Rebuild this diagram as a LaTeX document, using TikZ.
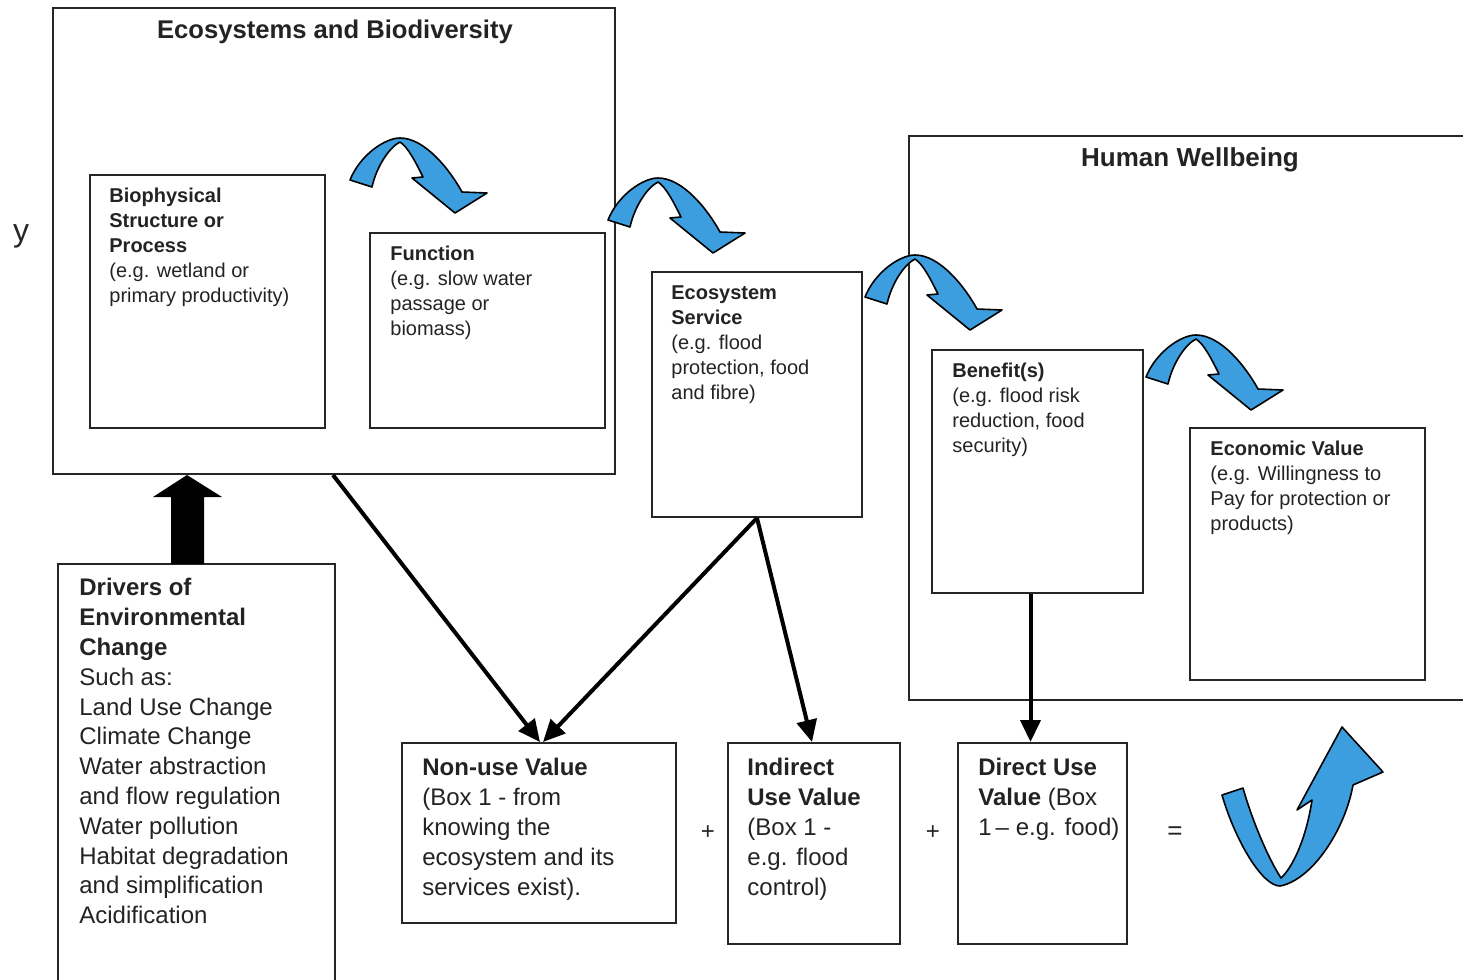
\documentclass[tikz,border=0pt]{standalone}
\usepackage{fontspec}
\setmainfont{Liberation Sans}
\usetikzlibrary{arrows.meta,fit,calc}
\definecolor{sky}{RGB}{60,158,222}
\definecolor{ink}{RGB}{35,35,35}
\begin{document}
\begin{tikzpicture}[x=0.5pt,y=-0.5pt,
  box/.style={draw=black!85, line width=1pt, inner sep=0pt},
  txt/.style={anchor=north west, inner sep=0pt, align=left, text=ink, font=\fontsize{10}{12.5}\selectfont},
  bigtxt/.style={anchor=north west, inner sep=0pt, align=left, text=ink, font=\fontsize{12}{15}\selectfont},
  ttl/.style={inner sep=0pt, text=ink, font=\bfseries\fontsize{12.8}{14}\selectfont},
  conn/.style={line width=2pt, draw=black, -{Triangle[length=11pt,width=10pt]}},
  bluearrow/.style={fill=sky, draw=black, line width=0.8pt, line join=round},
  curvy/.pic={
    \path[bluearrow] (0,45) .. controls (10,20) and (35,3) .. (50,3)
      .. controls (75,3) and (100,35) .. (112,57) -- (137,58) -- (105,78) -- (62,43) -- (73,42)
      .. controls (66,28) and (58,12) .. (50,7)
      .. controls (40,12) and (27,30) .. (22,52) -- cycle;
  }]
\useasboundingbox (0,0) rectangle (1463,980);

% outer boxes
\node[box, fit={(53,8) (615,474)}] (eco) {};
\node[ttl] (ecot) at (335,32) {Ecosystems and Biodiversity};
\node[box, fit={(909,136) (1475,700)}] (hw) {};
\node[ttl, font=\bfseries\fontsize{13}{15}\selectfont] (hwt) at (1190,160) {Human Wellbeing};

% inner boxes
\node[box, fit={(90,175) (325,428)}] (bio) {};
\node[txt] at ([shift={(20,14)}]bio.north west) {\textbf{Biophysical}\\\textbf{Structure or}\\\textbf{Process}\\(e.g. wetland or\\primary productivity)};
\node[box, fit={(370,233) (605,428)}] (func) {};
\node[txt] at ([shift={(21,14)}]func.north west) {\textbf{Function}\\(e.g. slow water\\passage or\\biomass)};
\node[box, fit={(652,272) (862,517)}] (serv) {};
\node[txt] at ([shift={(20,14)}]serv.north west) {\textbf{Ecosystem}\\\textbf{Service}\\(e.g. flood\\protection, food\\and fibre)};
\node[box, fit={(932,350) (1143,593)}] (ben) {};
\node[txt] at ([shift={(21,14)}]ben.north west) {\textbf{Benefit(s)}\\(e.g. flood risk\\reduction, food\\security)};
\node[box, fit={(1190,428) (1425,680)}] (econ) {};
\node[txt] at ([shift={(21,14)}]econ.north west) {\textbf{Economic Value}\\(e.g. Willingness to\\Pay for protection or\\products)};

% drivers
\node[box, fit={(58,564) (335,995)}] (drv) {};
\node[bigtxt, font=\fontsize{12}{14.9}\selectfont] at ([shift={(22,15)}]drv.north west) {\textbf{Drivers of}\\\textbf{Environmental}\\\textbf{Change}\\Such as:\\Land Use Change\\Climate Change\\Water abstraction\\and flow regulation\\Water pollution\\Habitat degradation\\and simplification\\Acidification};

% value boxes
\node[box, fit={(402,743) (676,923)}] (nonuse) {};
\node[bigtxt] at ([shift={(21,16)}]nonuse.north west) {\textbf{Non-use Value}\\(Box 1 - from\\knowing the\\ecosystem and its\\services exist).};
\node[box, fit={(728,743) (900,944)}] (indir) {};
\node[bigtxt] at ([shift={(20,16)}]indir.north west) {\textbf{Indirect}\\\textbf{Use Value}\\(Box 1 -\\e.g. flood\\control)};
\node[box, fit={(958,743) (1127,944)}] (dir) {};
\node[bigtxt] at ([shift={(21,16)}]dir.north west) {\textbf{Direct Use}\\\textbf{Value} (Box\\1\,– e.g. food)};

\node[text=ink, font=\fontsize{12}{14}\selectfont] (plus1) at (708,833) {+};
\node[text=ink, font=\fontsize{12}{14}\selectfont] (plus2) at (933,833) {+};
\node[text=ink, font=\fontsize{13}{14}\selectfont] (eq) at (1175,833) {=};

\node[text=black!85, font=\fontsize{16}{16}\selectfont] (ych) at (21,236) {y};

% connectors
\draw[conn] ([xshift=-0.5pt]eco.south) -- ([xshift=0.5pt]nonuse.north);
\draw[conn] (serv.south) -- ([xshift=2pt]nonuse.north);
\draw[conn] (serv.south) -- ([xshift=-1pt]indir.north);
\draw[conn] ([xshift=-3.5pt]ben.south) -- ([xshift=-3.5pt]ben.south |- dir.north);

% block arrow from drivers
\fill[black] (171,564) -- (171,497) -- (153,497) -- (187,475) -- (222,497) -- (204,497) -- (204,564) -- cycle;

% blue curved arrows
\pic at (350,135) {curvy};
\pic at (608,175) {curvy};
\pic at (865,252) {curvy};
\pic at (1146,332) {curvy};
\path[bluearrow] (1222,795) .. controls (1235,840) and (1262,886) .. (1280,886)
  .. controls (1312,880) and (1345,830) .. (1353,785) -- (1383,772) -- (1342,727) -- (1297,810) -- (1312,800)
  .. controls (1306,840) and (1292,868) .. (1281,878)
  .. controls (1268,858) and (1252,820) .. (1243,788) -- cycle;
\end{tikzpicture}
\end{document}
